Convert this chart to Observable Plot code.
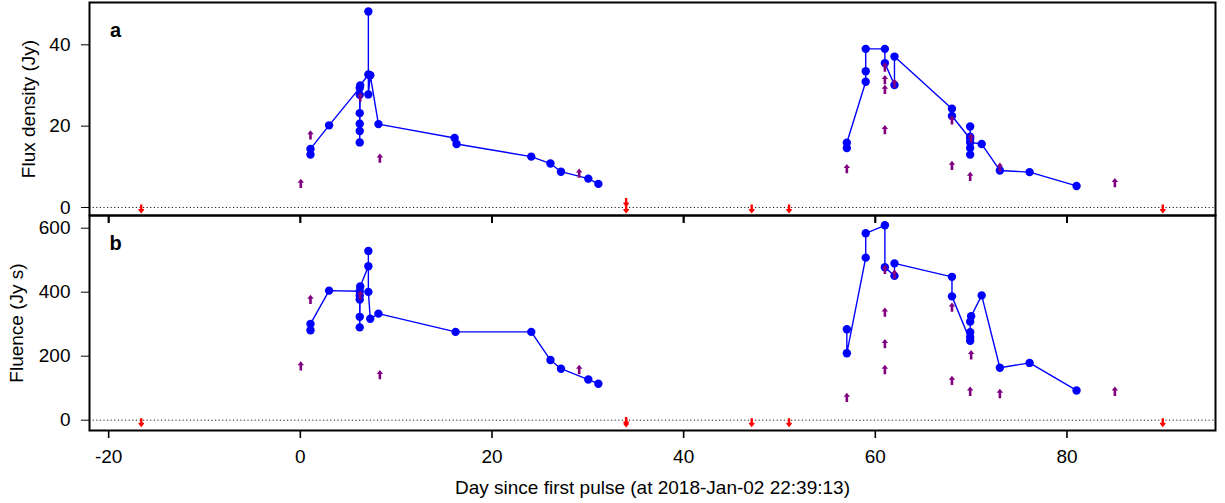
<!DOCTYPE html>
<html><head><meta charset="utf-8">
<script src="https://cdn.jsdelivr.net/npm/d3@7"></script>
<script src="https://cdn.jsdelivr.net/npm/@observablehq/plot@0.6"></script>
<style>
body{margin:0;background:#fff;}
#chart{position:relative;}
#chart svg{display:block;overflow:visible;}
#chart svg.pa{position:relative;z-index:2;background:transparent !important;}
#chart svg.pb{position:relative;z-index:1;}
</style></head><body><div id="chart"></div>
<script>
// ---- Data ----
const xTicks = [-20, 0, 20, 40, 60, 80];
const fluxTicks = [0, 20, 40];
const fluenceTicks = [0, 200, 400, 600];
const xTitle = "Day since first pulse (at 2018-Jan-02 22:39:13)";
const fluxTitle = "Flux density (Jy)";
const fluenceTitle = "Fluence (Jy s)";

// detections, in line order (flux density, Jy)
const fluxDay = [1.06,1.06,3.0,6.2,6.2,6.2,6.2,6.2,6.2,6.25,7.1,7.1,7.1,7.3,8.15,16.1,16.3,24.1,26.1,27.2,30.05,31.1,
  57.03,57.03,59.0,59.0,59.0,61.0,61.0,62.0,62.0,68.0,68.0,69.9,69.9,69.9,69.9,69.9,69.9,71.1,73.0,76.1,81.0];
const fluxVal = [13.0,14.4,20.2,29.4,27.7,23.2,20.6,18.8,16.0,30.0,32.7,48.2,27.8,32.5,20.5,17.1,15.6,12.5,10.8,8.8,7.1,5.8,
  14.6,15.9,30.9,33.5,39.0,39.0,35.5,30.1,37.1,24.3,22.5,16.9,19.9,17.4,13.0,14.6,16.0,15.6,9.1,8.7,5.3];
// lower limits (purple, up arrows)
const fluxLoDay = [0.05,1.06,6.25,8.3,29.1,57.03,61.0,61.0,61.0,61.0,62.0,68.0,68.0,70.0,69.9,73.0,85.0];
const fluxLoVal = [5.9,17.8,27.1,12.1,8.4,9.5,34.5,31.4,29.0,19.1,30.5,21.5,10.3,17.0,7.6,9.9,6.1];
// upper limits (red, down arrows)
const fluxUpDay = [-16.6,34.0,34.0,47.1,51.0,90.0];
const fluxUpVal = [-0.3,1.3,-0.3,-0.3,-0.3,-0.3];

// fluence, Jy s
const fluDay = [1.06,1.06,3.0,6.2,6.2,6.2,6.2,6.2,6.25,7.1,7.1,7.1,7.3,8.15,16.2,24.1,26.1,27.2,30.05,31.1,
  57.03,57.03,59.0,59.0,61.0,61.0,62.0,62.0,68.0,68.0,69.9,69.9,69.9,69.9,70.0,71.1,73.0,76.1,81.0];
const fluVal = [281,301,405,403,390,377,323,290,418,481,529,401,317,333,276,276,188,161,127,114,
  284,209,508,584,609,478,451,490,448,387,248,259,275,308,325,390,164,179,93];
const fluLoDay = [0.05,1.06,6.25,8.3,29.1,57.03,61.0,61.0,61.0,61.0,62.0,68.0,68.0,70.0,69.9,73.0,85.0];
const fluLoVal = [169,377,390,142,158,71,471,337,239,158,456,353,124,204,90,83,90];
const fluUpDay = [-16.6,34.0,34.0,47.1,51.0,90.0];
const fluUpVal = [-7,-3,-8,-7,-7,-7];

// ---- Build tables ----
const zip = (a, b) => a.map((d, i) => ({day: d, val: b[i]}));
const flux = zip(fluxDay, fluxVal), fluxLo = zip(fluxLoDay, fluxLoVal), fluxUp = zip(fluxUpDay, fluxUpVal);
const flu = zip(fluDay, fluVal), fluLo = zip(fluLoDay, fluLoVal), fluUp = zip(fluUpDay, fluUpVal);

// arrow symbols
const upArrow = {draw(c) {
  c.moveTo(0,-4.8); c.lineTo(3.2,-0.8); c.lineTo(1.3,-0.8); c.lineTo(1.3,4.5);
  c.lineTo(-1.3,4.5); c.lineTo(-1.3,-0.8); c.lineTo(-3.2,-0.8); c.closePath();
}};
const downArrow = {draw(c) {
  c.moveTo(0,4.8); c.lineTo(2.8,1.2); c.lineTo(2.8,0.4); c.lineTo(1.2,0.4); c.lineTo(1.2,-4.2);
  c.lineTo(-1.2,-4.2); c.lineTo(-1.2,0.4); c.lineTo(-2.8,0.4); c.lineTo(-2.8,1.2); c.closePath();
}};

const BLUE = "#0000ff", PURPLE = "#800080", RED = "#ff0000";
const FS = 19;
const style = {fontFamily: "'Liberation Sans', Arial, Helvetica, sans-serif", fontSize: FS + "px",
  color: "black", overflow: "visible"};
const xDomain = [-22.0, 95.5];
const fluxDomain = [-1.97, 50.4];
const fluDomain = [-32.2, 639.7];

function dataMarks(det, lo, up) {
  return [
    Plot.ruleY([0], {stroke: "#222", strokeWidth: 1, strokeDasharray: "1.2,2.4"}),
    Plot.line(det, {x: "day", y: "val", filter: d => d.day < 45, stroke: BLUE, strokeWidth: 1.4}),
    Plot.line(det, {x: "day", y: "val", filter: d => d.day > 45, stroke: BLUE, strokeWidth: 1.4}),
    Plot.dot(det, {x: "day", y: "val", r: 4.2, fill: BLUE}),
    Plot.dot(lo, {x: "day", y: "val", symbol: upArrow, fill: PURPLE}),
    Plot.dot(up, {x: "day", y: "val", symbol: downArrow, fill: RED}),
    Plot.frame({stroke: "black", strokeWidth: 2})
  ];
}

const pa = Plot.plot({
  width: 1225, height: 215, marginLeft: 89, marginRight: 10, marginTop: 2, marginBottom: 0,
  className: "pa",
  style: {...style, background: "transparent"},
  x: {domain: xDomain},
  y: {domain: fluxDomain},
  marks: [
    ...dataMarks(flux, fluxLo, fluxUp),
    Plot.axisY({ticks: fluxTicks, tickSize: 8, tickPadding: 11, fontSize: FS, label: null, tickFormat: d => String(d)}),
    // ticks on the shared border, pointing down into panel b
    Plot.axisX({ticks: xTicks, anchor: "bottom", tickSize: 8, strokeWidth: 1.8, label: null, tickFormat: () => ""}),
    Plot.text(["a"], {frameAnchor: "top-left", dx: 26, dy: 28, fontWeight: "bold", fontSize: 20, lineAnchor: "middle", textAnchor: "middle"}),
    Plot.text([fluxTitle], {frameAnchor: "left", dx: -61, rotate: -90, fontSize: FS, textAnchor: "middle", lineAnchor: "middle"})
  ]
});

const pb = Plot.plot({
  width: 1225, height: 288, marginLeft: 89, marginRight: 10, marginTop: 0, marginBottom: 73,
  className: "pb",
  style: {...style, background: "white"},
  x: {domain: xDomain},
  y: {domain: fluDomain},
  marks: [
    ...dataMarks(flu, fluLo, fluUp),
    Plot.ruleX(xTicks, {x: d => d, y1: fluDomain[1], y2: fluDomain[1] - 25, stroke: "black", strokeWidth: 1.8}),
    Plot.axisY({ticks: fluenceTicks, tickSize: 8, tickPadding: 11, fontSize: FS, label: null, tickFormat: d => String(d)}),
    Plot.axisX({ticks: xTicks, anchor: "bottom", tickSize: 8, strokeWidth: 1.6, tickPadding: 11, fontSize: FS, label: null, tickFormat: d => String(d)}),
    Plot.text(["b"], {frameAnchor: "top-left", dx: 26, dy: 28, fontWeight: "bold", fontSize: 20, lineAnchor: "middle", textAnchor: "middle"}),
    Plot.text([fluenceTitle], {frameAnchor: "left", dx: -73, rotate: -90, fontSize: FS, textAnchor: "middle", lineAnchor: "middle"}),
    Plot.text([xTitle], {frameAnchor: "bottom", dy: 57, fontSize: FS, lineAnchor: "middle", textAnchor: "middle"})
  ]
});

const el = document.getElementById("chart");
el.appendChild(pa);
el.appendChild(pb);
</script></body></html>
